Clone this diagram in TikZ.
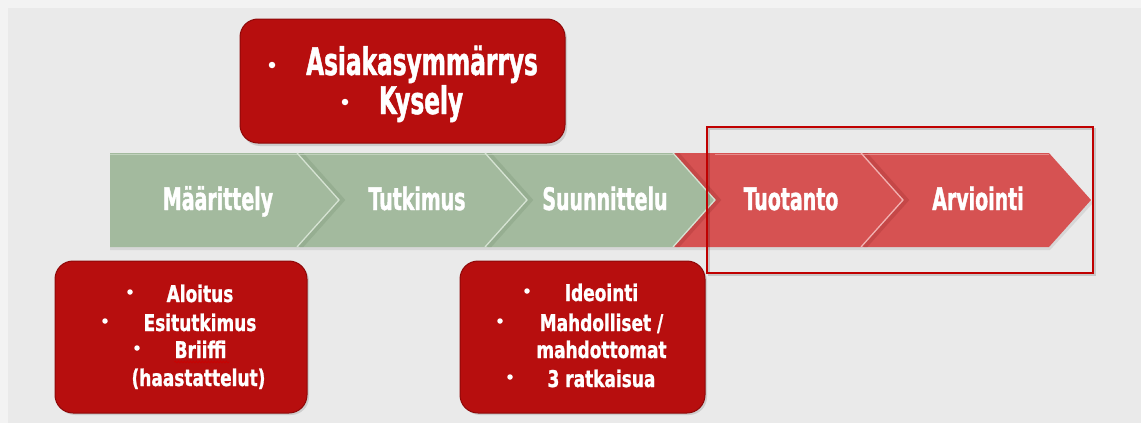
\documentclass[tikz,border=0pt]{standalone}
\usepackage{fontspec}
\usetikzlibrary{decorations.pathmorphing}
\newfontfamily\imA{DejaVu Sans Condensed}[FakeStretch=0.68, FakeBold=1.2]
\newfontfamily\imB{DejaVu Sans Condensed}[FakeStretch=0.82, FakeBold=1.0]
\definecolor{bgA}{HTML}{F3F3F3}
\definecolor{bgB}{HTML}{EAEAEA}
\definecolor{chgreen}{HTML}{A3BA9E}
\definecolor{chgreenL}{HTML}{D6E3D3}
\definecolor{chgreenD}{HTML}{7F9A7A}
\definecolor{chred}{HTML}{D65252}
\definecolor{chredL}{HTML}{F2B2B2}
\definecolor{chredD}{HTML}{A83434}
\definecolor{boxred}{HTML}{B70E0E}
\definecolor{boxedge}{HTML}{8E0808}
\definecolor{framered}{HTML}{C00000}
\tikzset{
  callout/.style={fill=boxred, draw=boxedge, line width=1pt, rounded corners=18pt},
  chevgreen/.style={fill=chgreen},
  chevred/.style={fill=chred},
  notchG/.style={draw=chgreenL, line width=1.3pt},
  notchR/.style={draw=chredL, line width=1.3pt},
  bevelG/.style={draw=chgreenD, line width=5pt, opacity=0.35},
  bevelR/.style={draw=chredD, line width=5pt, opacity=0.35},
  toptxt/.style={anchor=base, inner sep=0pt, text=white, font=\imA\bfseries\fontsize{38}{40}\selectfont},
  chevtxt/.style={anchor=base, inner sep=0pt, text=white, font=\imA\bfseries\fontsize{31}{33}\selectfont},
  bottxt/.style={anchor=base, inner sep=0pt, text=white, font=\imB\bfseries\fontsize{23}{25}\selectfont},
  bulletA/.style={circle, fill=white, inner sep=0pt, minimum size=6.5pt},
  bulletB/.style={circle, fill=white, inner sep=0pt, minimum size=5.5pt},
  shadowbox/.style={fill=black, opacity=0.12, rounded corners=18pt}
}
\begin{document}
\begin{tikzpicture}[x=1pt,y=-1pt]
\useasboundingbox (0,0) rectangle (1141,423);
% background
\fill[bgA] (0,0) rectangle (1141,423);
\fill[bgB] (8,8) rectangle (1141,423);

% chevron shadows
\fill[black, opacity=0.08] (110,156) -- (1050,156) -- (1093,203) -- (1050,250) -- (110,250) -- cycle;

% red chevrons
\path[chevred] (673,153) -- (861,153) -- (903,200) -- (861,247) -- (673,247) -- (715,200) -- cycle;
\path[chevred] (861,153) -- (1049,153) -- (1091,200) -- (1049,247) -- (861,247) -- (903,200) -- cycle;
% green chevrons
\path[chevgreen] (110,153) -- (297,153) -- (339,200) -- (297,247) -- (110,247) -- cycle;
\path[chevgreen] (297,153) -- (485,153) -- (527,200) -- (485,247) -- (297,247) -- (339,200) -- cycle;
\path[chevgreen] (485,153) -- (673,153) -- (715,200) -- (673,247) -- (485,247) -- (527,200) -- cycle;
% bevel shadows just inside each notch
\begin{scope}
\clip (297,153) -- (485,153) -- (527,200) -- (485,247) -- (297,247) -- (339,200) -- cycle;
\draw[bevelG] (300,153) -- (342,200) -- (300,247);
\end{scope}
\begin{scope}
\clip (485,153) -- (673,153) -- (715,200) -- (673,247) -- (485,247) -- (527,200) -- cycle;
\draw[bevelG] (488,153) -- (530,200) -- (488,247);
\end{scope}
\begin{scope}
\clip (673,153) -- (861,153) -- (903,200) -- (861,247) -- (673,247) -- (715,200) -- cycle;
\draw[bevelR] (676,153) -- (718,200) -- (676,247);
\end{scope}
\begin{scope}
\clip (861,153) -- (1049,153) -- (1091,200) -- (1049,247) -- (861,247) -- (903,200) -- cycle;
\draw[bevelR] (864,153) -- (906,200) -- (864,247);
\end{scope}
% notch highlights
\draw[notchG] (297,153) -- (339,200) -- (297,247);
\draw[notchG] (485,153) -- (527,200) -- (485,247);
\draw[notchG] (673,153) -- (715,200) -- (673,247);
\draw[notchR] (861,153) -- (903,200) -- (861,247);
% top edge highlights
\draw[chgreenL, line width=0.8pt, opacity=0.6] (110,154) -- (673,154);
\draw[chredL, line width=0.8pt, opacity=0.6] (715,154) -- (1049,154);

% chevron labels
\node[chevtxt] (maar) at (218,210) {Määrittely};
\node[chevtxt] (tutk) at (417,210) {Tutkimus};
\node[chevtxt] (suun) at (605,210) {Suunnittelu};
\node[chevtxt] (tuot) at (791,210) {Tuotanto};
\node[chevtxt] (arvi) at (978,210) {Arviointi};

% highlight frame
\draw[black, opacity=0.15, line width=2.5pt] (709,129) rectangle (1095,275);
\draw[framered, line width=2.5pt] (707,127) rectangle (1093,273);

% top callout
\fill[shadowbox] (242,21) rectangle (567,146);
\draw[callout] (240,19) rectangle (565,143);
\node[bulletA] (tb1) at (272,65) {};
\node[toptxt] (asia) at (422,75) {Asiakasymmärrys};
\node[bulletA] (tb2) at (345,102) {};
\node[toptxt] (kyse) at (421,114) {Kysely};

% bottom-left callout
\fill[shadowbox] (57,263) rectangle (309,415);
\draw[callout] (55,261) rectangle (307,413);
\node[bulletB] (lb1) at (130,292) {};
\node[bottxt] (aloi) at (200,302) {Aloitus};
\node[bulletB] (lb2) at (105,321) {};
\node[bottxt] (esit) at (200,331) {Esitutkimus};
\node[bulletB] (lb3) at (137,348) {};
\node[bottxt] (brii) at (200.5,358) {Briiffi};
\node[bottxt] (haas) at (198.5,386) {(haastattelut)};
\draw[red!80!black, line width=0.6pt, decorate, decoration={snake, amplitude=0.8pt, segment length=3pt}] (brii.base west) ++(0,4) -- ++(55,0);

% bottom-right callout
\fill[shadowbox] (462,263) rectangle (707,415);
\draw[callout] (460,261) rectangle (705,413);
\node[bulletB] (rb1) at (527,291) {};
\node[bottxt] (ideo) at (601.5,301) {Ideointi};
\node[bulletB] (rb2) at (500,321) {};
\node[bottxt] (mahd) at (601.5,331) {Mahdolliset /};
\node[bottxt] (mahdo) at (601.5,358) {mahdottomat};
\node[bulletB] (rb3) at (510,377) {};
\node[bottxt] (ratk) at (601.5,387) {3 ratkaisua};
\end{tikzpicture}
\end{document}
